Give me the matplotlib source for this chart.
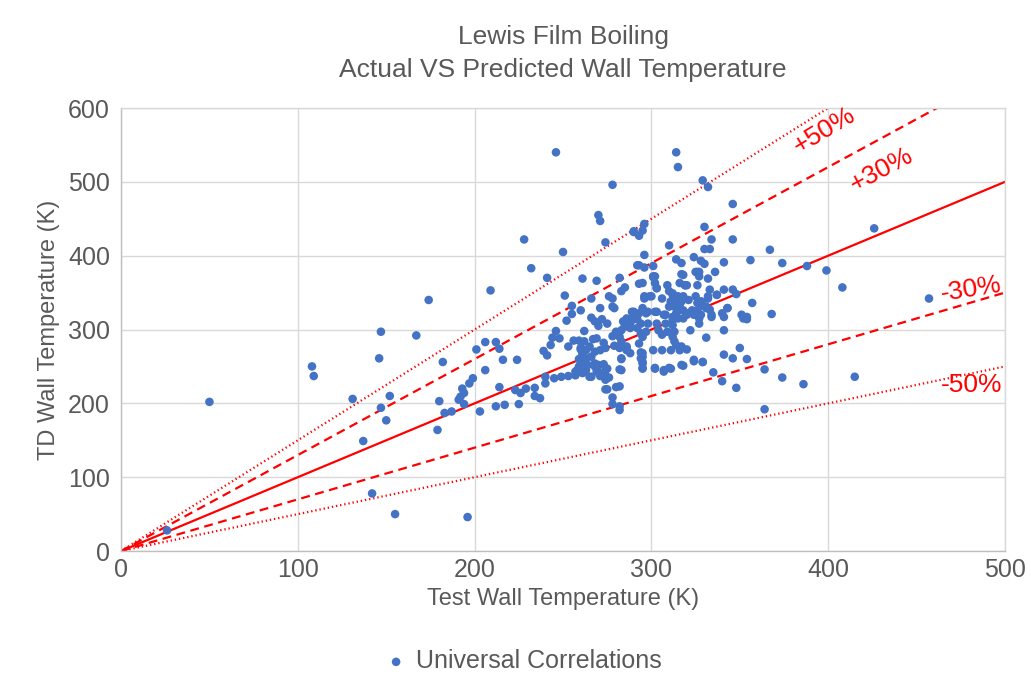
import matplotlib
matplotlib.use("Agg")
import matplotlib.pyplot as plt
import numpy as np

plt.rcParams['font.family'] = ['Liberation Sans', 'DejaVu Sans']

title = "Lewis Film Boiling\nActual VS Predicted Wall Temperature"
x_label = "Test Wall Temperature (K)"
y_label = "TD Wall Temperature (K)"
series_name = "Universal Correlations"
x_ticks = [0, 100, 200, 300, 400, 500]
y_ticks = [0, 100, 200, 300, 400, 500, 600]

points_left = [
    (26, 28), (50, 202), (108, 250), (109, 237), (131, 206), (137, 149), (142, 78),
    (147, 297), (146, 261), (147, 194), (152, 210), (150, 177), (155, 50), (167, 292),
    (174, 340), (179, 164), (180, 203), (182, 256), (183, 187), (187, 189), (191, 205),
    (192, 209), (194, 214), (193, 220), (194, 199), (196, 46), (197, 227), (199, 234),
    (201, 273), (203, 189), (206, 245), (206, 283), (209, 353), (212, 283), (212, 196),
    (214, 274), (214, 222), (216, 259), (217, 198), (224, 259), (223, 218), (226, 214),
    (229, 220), (225, 199), (234, 221), (234, 210), (237, 207),
]
points_top = [
    (246, 540), (278, 496), (270, 455), (271, 447), (228, 422), (250, 405), (274, 418),
    (290, 432), (293, 427), (232, 383), (241, 370), (261, 369), (269, 366), (282, 370),
    (292, 387), (314, 540), (315, 520), (329, 502), (332, 493), (346, 470), (330, 439),
    (334, 422), (346, 422), (330, 409), (333, 409), (310, 414), (296, 443), (295, 434),
    (290, 433), (296, 401), (293, 387), (296, 384), (301, 386), (302, 372), (314, 395),
    (317, 390), (317, 375), (324, 398), (328, 393), (330, 389), (325, 378), (327, 378),
    (336, 378), (332, 369), (341, 391), (356, 394), (367, 408), (374, 390), (388, 386),
    (426, 437),
]
points_right = [
    (357, 336), (368, 321), (351, 320), (352, 315), (354, 314), (348, 348), (346, 354),
    (341, 354), (326, 360), (333, 354), (337, 347), (332, 342), (343, 329), (340, 322),
    (333, 327), (334, 317), (328, 320), (331, 331), (341, 299), (331, 289), (327, 308),
    (322, 299), (320, 322), (323, 326), (326, 336), (328, 338), (399, 380), (408, 357),
    (457, 342), (415, 236), (386, 226), (364, 192), (335, 242), (340, 230), (341, 266),
    (346, 261), (350, 275), (354, 260), (348, 221), (364, 246), (374, 235), (329, 256),
    (324, 257), (318, 251), (310, 248), (307, 243), (302, 248), (295, 248), (295, 263),
    (295, 256),
]
points_mid = [
    (285, 357), (283, 352), (293, 362), (251, 346), (255, 332), (255, 321), (260, 326),
    (266, 342), (276, 345), (278, 342), (278, 331), (279, 329), (289, 324), (288, 314),
    (292, 314), (252, 312), (266, 316), (268, 311), (272, 314), (270, 305), (275, 308),
    (285, 306), (283, 299), (262, 298), (246, 298), (244, 289), (248, 288), (243, 279),
    (253, 277), (256, 285), (259, 285), (262, 284), (267, 287), (269, 288), (273, 282),
    (278, 291), (279, 278), (286, 273), (294, 269), (239, 271), (241, 265), (260, 273),
    (263, 272), (261, 266), (259, 260), (262, 259), (260, 253), (263, 249), (258, 245),
    (257, 238), (253, 237), (249, 236), (245, 234), (240, 236), (240, 227), (265, 236),
    (268, 250), (269, 243), (273, 253), (274, 245), (271, 237), (276, 235), (274, 219),
    (280, 222), (282, 246), (283, 260), (278, 208), (278, 199), (282, 191), (271, 329),
    (303, 356), (319, 360), (274, 232), (275, 219), (282, 223), (282, 196),
    (260, 275), (262, 272), (265, 277), (268, 270), (271, 272), (274, 275), (261, 266),
    (263, 261), (266, 263), (261, 256), (259, 250), (264, 252), (268, 254), (257, 243),
    (261, 241), (263, 245), (266, 236), (270, 252), (270, 243), (274, 238), (275, 247),
    (280, 297), (282, 290), (283, 284), (282, 275), (286, 277), (288, 268), (293, 281),
    (288, 302), (286, 311), (290, 314),
]
points_core = [
    (312, 349), (315, 345), (317, 338), (311, 338), (313, 331), (316, 331), (318, 326),
    (314, 322), (315, 315), (312, 313), (316, 363), (320, 360), (326, 378), (318, 374),
    (327, 372), (309, 360), (302, 363), (301, 372), (295, 363), (296, 345), (300, 345),
    (290, 324), (293, 322), (297, 322), (302, 324), (307, 320), (286, 315), (284, 311),
    (288, 308), (294, 308), (298, 308), (303, 308), (308, 308), (312, 306), (292, 302),
    (297, 297), (304, 299), (309, 297), (313, 297), (285, 304), (287, 306), (294, 295),
    (295, 290), (306, 293), (312, 290), (313, 284), (314, 279), (317, 277), (316, 272),
    (320, 273), (311, 272), (306, 272), (301, 272), (317, 252), (324, 259), (329, 256),
    (307, 245), (311, 247), (302, 247), (295, 268), (294, 261), (295, 254), (295, 247),
    (286, 272), (283, 261), (283, 245),
    (310, 352), (312, 347), (314, 340), (316, 336), (311, 338), (318, 345), (321, 340),
    (325, 345), (328, 338), (329, 333), (331, 329), (332, 345), (337, 347), (343, 329),
    (326, 326), (324, 320), (320, 320), (316, 326), (310, 331), (306, 342), (299, 345),
    (296, 342), (295, 329), (298, 324), (303, 324), (308, 320), (312, 317), (318, 315),
    (327, 315), (334, 320), (341, 317), (354, 317), (303, 356), (319, 360), (301, 371),
]

all_points = points_left + points_top + points_right + points_mid + points_core
xs = np.array([p[0] for p in all_points], dtype=float)
ys = np.array([p[1] for p in all_points], dtype=float)

ref_slopes = [1.5, 1.3, 1.0, 0.7, 0.5]
ref_styles = [':', '--', '-', '--', ':']
line_x = np.array([0, 500])

label_text = ["+50%", "+30%", "-30%", "-50%"]
label_x = [398, 430, 481, 481]
label_y = [570, 516, 355, 225]
label_rot = [31, 28, 9, 0]

fig = plt.figure(figsize=(10.31, 6.84), dpi=100)
ax = fig.add_axes([0.1174, 0.1944, 0.8574, 0.6477])

gray = '#595959'
grid_c = '#d9d9d9'
red = '#FF0000'

for k, ls in zip(ref_slopes, ref_styles):
    line, = ax.plot(line_x, k * line_x, color=red, linewidth=1.6, zorder=2)
    if ls == '--':
        line.set_dashes((4, 2.5))
    elif ls == ':':
        line.set_dashes((0.6, 1.3))

ax.scatter(xs, ys, s=38, color='#4472C4', edgecolors='none', zorder=3, label=series_name)

for t, lx, ly, r in zip(label_text, label_x, label_y, label_rot):
    ax.text(lx, ly, t, color=red, fontsize=19, rotation=r, ha='center', va='center',
            rotation_mode='anchor', zorder=4)

ax.set_xlim(0, 500)
ax.set_ylim(0, 600)
ax.set_xticks(x_ticks)
ax.set_yticks(y_ticks)
ax.grid(True, color=grid_c, linewidth=1.0, zorder=0)
ax.set_axisbelow(True)
for s in ax.spines.values():
    s.set_color(grid_c)
    s.set_linewidth(1.0)
ax.spines['left'].set_color('#bfbfbf')
ax.spines['bottom'].set_color('#bfbfbf')
ax.tick_params(length=0, labelsize=18, labelcolor=gray, pad=8)
ax.tick_params(axis='x', pad=5)

ax.set_xlabel(x_label, fontsize=17, color=gray, labelpad=4)
ax.set_ylabel(y_label, fontsize=17, color=gray, labelpad=6)
ax.set_title(title, fontsize=19, color=gray, pad=22, linespacing=1.5)

leg = fig.legend(loc='center', bbox_to_anchor=(0.507, 0.033), frameon=False,
                 fontsize=18, handletextpad=0.3, handlelength=1.0, markerscale=1.0)
for txt in leg.get_texts():
    txt.set_color(gray)

fig.savefig('out.png', dpi=100)
